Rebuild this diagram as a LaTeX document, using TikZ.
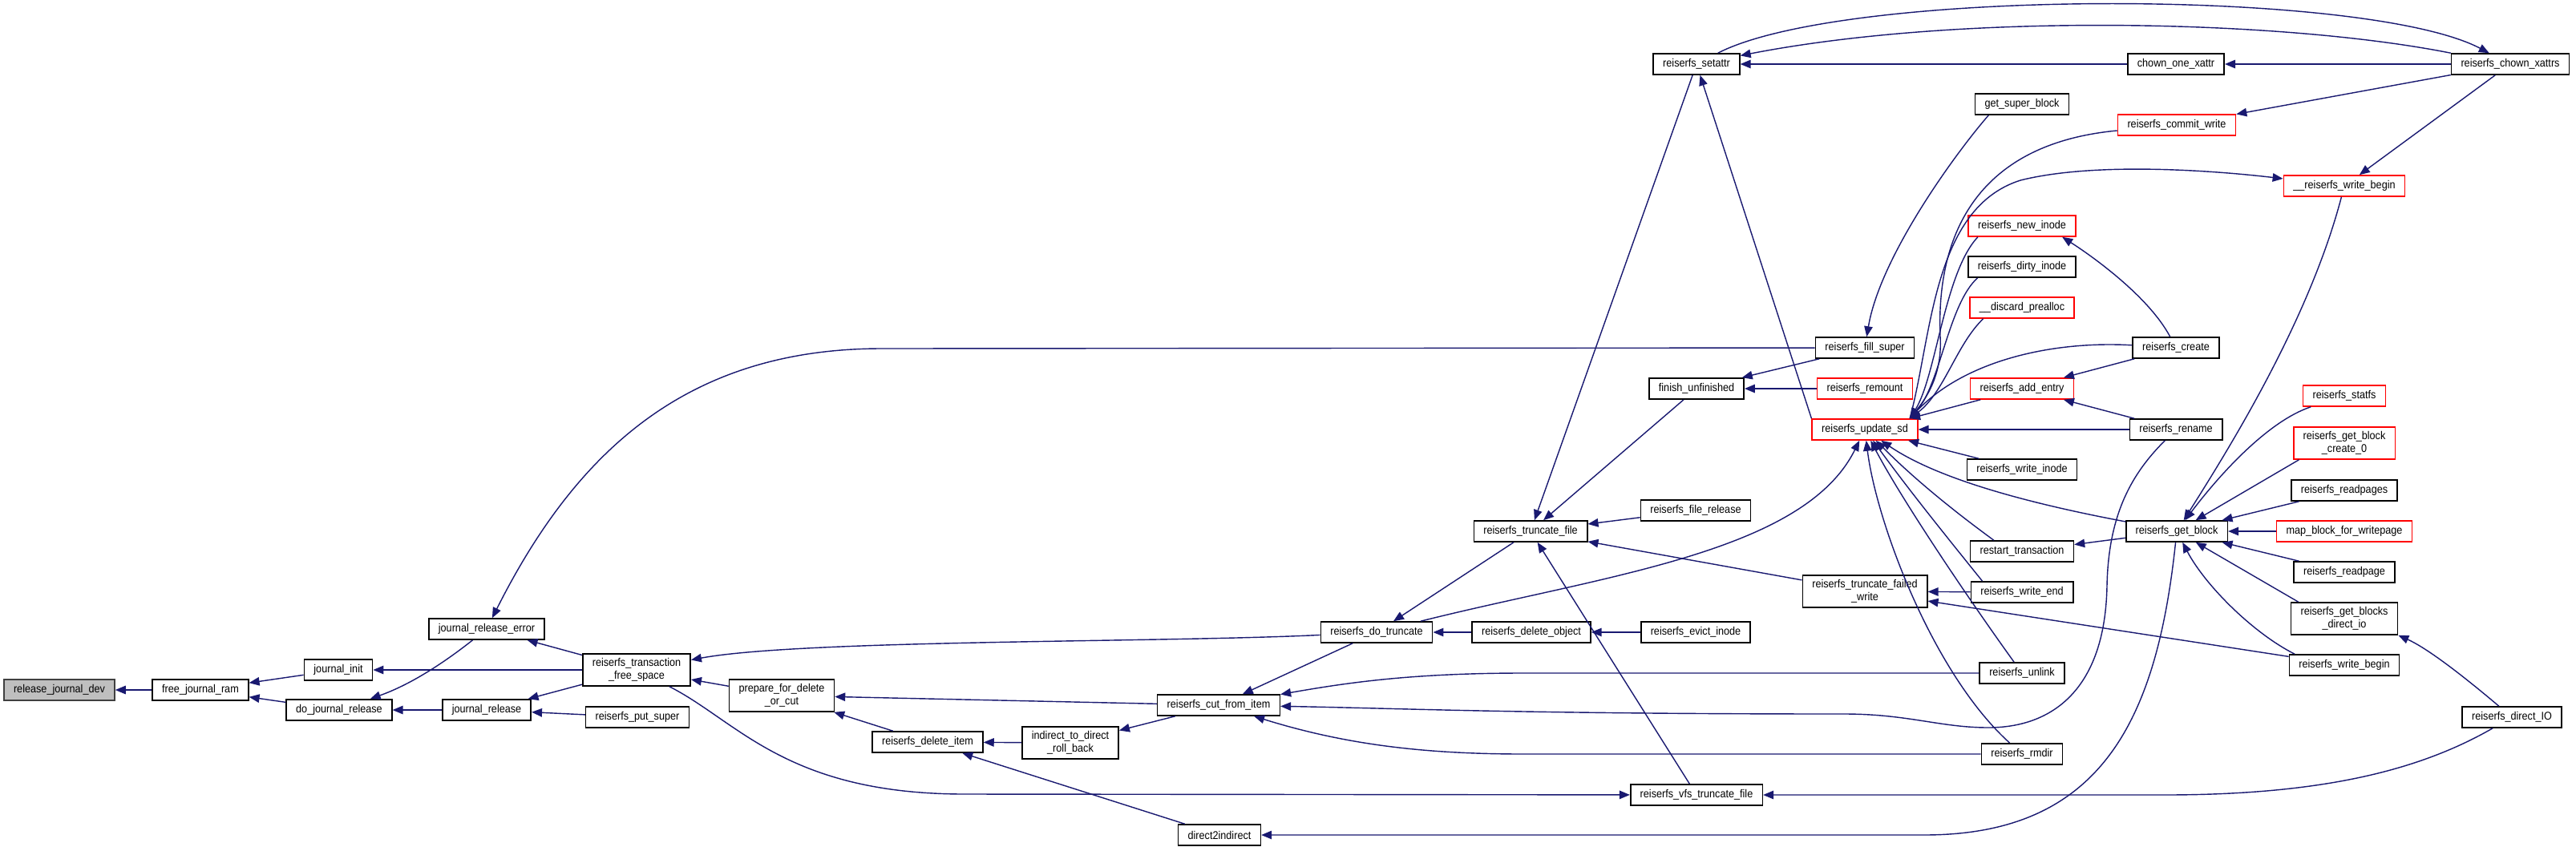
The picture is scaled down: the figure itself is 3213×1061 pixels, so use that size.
\documentclass[tikz,border=0pt]{standalone}
\usepackage{fontspec}
\setmainfont{Liberation Sans}[FakeStretch=0.9]
\usetikzlibrary{arrows.meta}
\definecolor{edgeblue}{HTML}{191970}
\definecolor{rootgray}{HTML}{BFBFBF}

\begin{document}
\begin{tikzpicture}[
  x=0.02cm, y=-0.02cm,
  every node/.style={font=\fontsize{8}{9.2}\selectfont},
  fn/.style={draw=black, fill=white, line width=0.9pt, inner xsep=0.24cm, inner ysep=0pt, minimum height=0.52cm, align=center},
  fnred/.style={fn, draw=red},
  fnroot/.style={fn, fill=rootgray, draw=black!75},
  twoline/.style={minimum height=0.8cm},
  call/.style={draw=edgeblue, line width=0.8pt, -{Triangle[length=0.26cm, width=0.21cm]}}
  ]
  \useasboundingbox (0,0) rectangle (3213,1061);

  \node[fnroot] (relDev) at (74,861) {release\_journal\_dev};
  \node[fn] (freeRam) at (250,861) {free\_journal\_ram};
  \node[fn] (jInit) at (422,836) {journal\_init};
  \node[fn] (doJRel) at (423,886) {do\_journal\_release};
  \node[fn] (jRelErr) at (607,785) {journal\_release\_error};
  \node[fn] (jRel) at (607,886) {journal\_release};
  \node[fn, twoline] (transFree) at (794,836) {reiserfs\_transaction\\\_free\_space};
  \node[fn] (putSuper) at (795,895) {reiserfs\_put\_super};
  \node[fn, twoline] (prepDel) at (975,868) {prepare\_for\_delete\\\_or\_cut};
  \node[fn] (delItem) at (1157,926) {reiserfs\_delete\_item};
  \node[fn, twoline] (indRoll) at (1335,927) {indirect\_to\_direct\\\_roll\_back};
  \node[fn] (cutItem) at (1520,880) {reiserfs\_cut\_from\_item};
  \node[fn] (d2i) at (1521,1042) {direct2indirect};
  \node[fn] (doTrunc) at (1717,789) {reiserfs\_do\_truncate};
  \node[fn] (delObj) at (1910,789) {reiserfs\_delete\_object};
  \node[fn] (truncFile) at (1909,663) {reiserfs\_truncate\_file};
  \node[fn] (setattr) at (2116,80) {reiserfs\_setattr};
  \node[fn] (finUnf) at (2116,485) {finish\_unfinished};
  \node[fn] (fileRel) at (2115,637) {reiserfs\_file\_release};
  \node[fn] (evict) at (2115,789) {reiserfs\_evict\_inode};
  \node[fn] (vfsTrunc) at (2116,992) {reiserfs\_vfs\_truncate\_file};
  \node[fn] (fillSuper) at (2326,434) {reiserfs\_fill\_super};
  \node[fnred] (remount) at (2326,485) {reiserfs\_remount};
  \node[fnred] (updSd) at (2326,536) {reiserfs\_update\_sd};
  \node[fn, twoline] (truncFail) at (2326,738) {reiserfs\_truncate\_failed\\\_write};
  \node[fn] (getSuper) at (2522,130) {get\_super\_block};
  \node[fnred] (newInode) at (2522,282) {reiserfs\_new\_inode};
  \node[fn] (dirtyInode) at (2522,333) {reiserfs\_dirty\_inode};
  \node[fnred] (discPre) at (2522,384) {\_\_discard\_prealloc};
  \node[fnred] (addEntry) at (2522,485) {reiserfs\_add\_entry};
  \node[fn] (writeInode) at (2522,586) {reiserfs\_write\_inode};
  \node[fn] (restartT) at (2522,688) {restart\_transaction};
  \node[fn] (writeEnd) at (2522,739) {reiserfs\_write\_end};
  \node[fn] (unlink) at (2522,840) {reiserfs\_unlink};
  \node[fn] (rmdir) at (2522,941) {reiserfs\_rmdir};
  \node[fn] (chownOne) at (2714,80) {chown\_one\_xattr};
  \node[fnred] (commitW) at (2715,156) {reiserfs\_commit\_write};
  \node[fn] (create) at (2714,434) {reiserfs\_create};
  \node[fn] (rename) at (2714,536) {reiserfs\_rename};
  \node[fn] (getBlock) at (2715,663) {reiserfs\_get\_block};
  \node[fnred] (uWriteBegin) at (2924,232) {\_\_reiserfs\_write\_begin};
  \node[fnred] (statfs) at (2924,494) {reiserfs\_statfs};
  \node[fnred, twoline] (gbc0) at (2924,553) {reiserfs\_get\_block\\\_create\_0};
  \node[fn] (readpages) at (2924,612) {reiserfs\_readpages};
  \node[fnred] (mapBlock) at (2924,663) {map\_block\_for\_writepage};
  \node[fn] (readpage) at (2924,714) {reiserfs\_readpage};
  \node[fn, twoline] (gbdio) at (2924,772) {reiserfs\_get\_blocks\\\_direct\_io};
  \node[fn] (writeBegin) at (2924,830) {reiserfs\_write\_begin};
  \node[fn] (chownX) at (3131,80) {reiserfs\_chown\_xattrs};
  \node[fn] (directIO) at (3133,895) {reiserfs\_direct\_IO};

  \draw[call] (freeRam) -- (relDev);
  \draw[call] (jInit) -- (freeRam);
  \draw[call] (doJRel) -- (freeRam);
  \draw[call] (transFree) -- (jInit);
  \draw[call] (jRelErr) .. controls (550,830) and (510,855) .. (doJRel);
  \draw[call] (jRel) -- (doJRel);
  \draw[call] (transFree) -- (jRelErr);
  \draw[call] (fillSuper) -- (1100,435) .. controls (860,435) and (720,560) .. (jRelErr);
  \draw[call] (transFree) -- (jRel);
  \draw[call] (putSuper) -- (jRel);
  \draw[call] (doTrunc) .. controls (1450,802) and (1000,798) .. (transFree);
  \draw[call] (prepDel) -- (transFree);
  \draw[call] (transFree) .. controls (920,900) and (980,990) .. (1200,991) -- (vfsTrunc);
  \draw[call] (cutItem) -- (prepDel);
  \draw[call] (delItem) -- (prepDel);
  \draw[call] (indRoll) -- (delItem);
  \draw[call] (d2i) -- (delItem);
  \draw[call] (cutItem) -- (indRoll);
  \draw[call] (doTrunc) -- (cutItem);
  \draw[call] (unlink) -- (1900,840) .. controls (1760,840) and (1680,852) .. (cutItem);
  \draw[call] (rename) .. controls (2660,590) and (2630,640) .. (2628,730)
    .. controls (2626,860) and (2560,908) .. (2480,908)
    .. controls (2420,908) and (2380,891) .. (2300,891)
    .. controls (1900,891) and (1750,884) .. (cutItem);
  \draw[call] (rmdir) -- (1900,941) .. controls (1780,941) and (1680,930) .. (cutItem);
  \draw[call] (getBlock) .. controls (2690,900) and (2620,1042) .. (2400,1042) -- (d2i);
  \draw[call] (delObj) -- (doTrunc);
  \draw[call] (truncFile) -- (doTrunc);
  \draw[call] (doTrunc) .. controls (2000,718) and (2250,690) .. (updSd);
  \draw[call] (evict) -- (delObj);
  \draw[call] (setattr) -- (truncFile);
  \draw[call] (finUnf) -- (truncFile);
  \draw[call] (fileRel) -- (truncFile);
  \draw[call] (truncFail) -- (truncFile);
  \draw[call] (vfsTrunc) -- (truncFile);
  \draw[call] (chownX.north west) .. controls (2850,25) and (2450,15) .. (setattr);
  \draw[call] (setattr) .. controls (2300,-15) and (2950,-15) .. (chownX);
  \draw[call] (chownOne) -- (setattr);
  \draw[call] (chownX) -- (chownOne);
  \draw[call] (updSd.north west) -- (setattr);
  \draw[call] ([xshift=0.35cm]getSuper.south west) .. controls (2440,190) and (2345,320) .. (fillSuper);
  \draw[call] (fillSuper) -- (finUnf);
  \draw[call] (remount) -- (finUnf);
  \draw[call] (commitW) .. controls (2460,180) and (2415,300) .. (2420,420)
    .. controls (2423,470) and (2400,500) .. ([xshift=-6pt]updSd.north east);
  \draw[call] ([xshift=-6pt]updSd.north east) .. controls (2410,420) and (2410,260) .. (2520,225)
    .. controls (2620,200) and (2780,215) .. (uWriteBegin);
  \draw[call] ([xshift=0.25cm]newInode.south west) .. controls (2425,340) and (2415,470) .. ([xshift=-6pt]updSd.north east);
  \draw[call] ([xshift=0.25cm]dirtyInode.south west) .. controls (2430,380) and (2420,480) .. ([xshift=-6pt]updSd.north east);
  \draw[call] ([xshift=0.35cm]discPre.south west) .. controls (2440,430) and (2425,490) .. ([xshift=-6pt]updSd.north east);
  \draw[call] (create) .. controls (2560,425) and (2450,450) .. ([xshift=-6pt]updSd.north east);
  \draw[call] (addEntry) -- ([xshift=-6pt]updSd.north east);
  \draw[call] (create) .. controls (2680,370) and (2610,320) .. ([xshift=-0.35cm]newInode.south east);
  \draw[call] (create) -- (addEntry);
  \draw[call] (rename) -- (addEntry);
  \draw[call] (rename) -- (updSd);
  \draw[call] (writeInode) -- (updSd);
  \draw[call] (getBlock) .. controls (2540,630) and (2420,600) .. (updSd);
  \draw[call] ([xshift=0.6cm]restartT.north west) .. controls (2440,640) and (2390,600) .. (updSd);
  \draw[call] ([xshift=0.3cm]writeEnd.north west) .. controls (2420,660) and (2380,610) .. (updSd);
  \draw[call] (unlink) .. controls (2450,740) and (2370,620) .. (updSd);
  \draw[call] (rmdir) .. controls (2410,840) and (2340,650) .. (updSd);
  \draw[call] (chownX) -- (commitW);
  \draw[call] (chownX) -- (uWriteBegin);
  \draw[call] (uWriteBegin) .. controls (2880,400) and (2780,560) .. (getBlock);
  \draw[call] (statfs) .. controls (2830,525) and (2770,590) .. (getBlock);
  \draw[call] ([xshift=0.15cm]gbc0.south west) -- (getBlock);
  \draw[call] (readpages) -- (getBlock);
  \draw[call] (mapBlock) -- (getBlock);
  \draw[call] (readpage) -- (getBlock);
  \draw[call] ([xshift=0.2cm]gbdio.north west) -- (getBlock);
  \draw[call] ([xshift=0.15cm]writeBegin.north west) .. controls (2810,790) and (2750,730) .. (getBlock);
  \draw[call] (getBlock) -- (restartT);
  \draw[call] (writeEnd) -- (truncFail);
  \draw[call] (writeBegin) -- (truncFail);
  \draw[call] (directIO) .. controls (3080,850) and (3030,810) .. (gbdio.south east);
  \draw[call] (directIO) .. controls (3020,960) and (2900,992) .. (2700,992) -- (vfsTrunc);
\end{tikzpicture}
\end{document}
